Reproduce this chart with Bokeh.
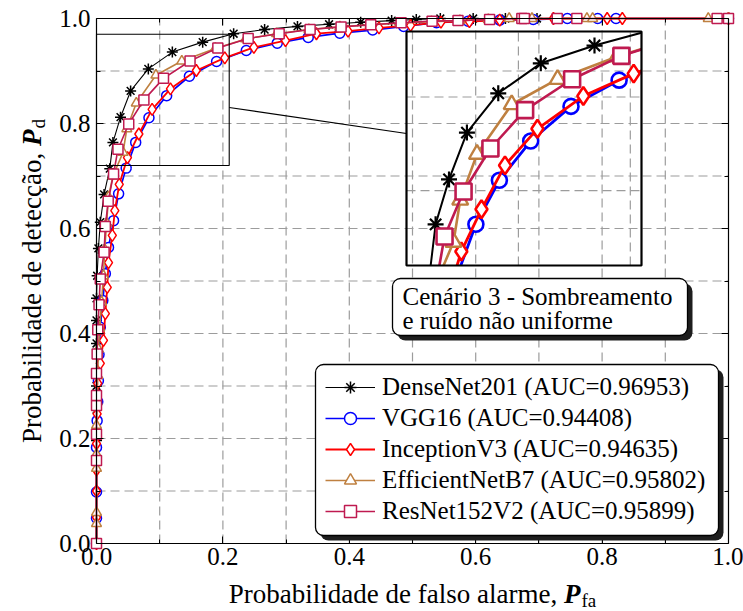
import glob
import math
from bokeh.plotting import figure
from bokeh.models import (Range1d, LinearAxis, FixedTicker, Label, Legend, LegendItem,
                          BoxAnnotation, PrintfTickFormatter, CustomJSTickFormatter)
from bokeh.embed import file_html
from bokeh.resources import INLINE

FONT = "Liberation Serif"

# ---------------- data ----------------
densenet_fpr = [0.0, 0.0, 0.0, 0.0, 0.0, 0.0, 0.0, 0.001, 0.003, 0.006, 0.012, 0.021, 0.026,
                0.038, 0.054, 0.082, 0.120, 0.168, 0.217, 0.266, 0.318, 0.368, 0.418, 0.467,
                0.506, 0.544, 0.596, 0.647, 0.697, 1.0]
densenet_tpr = [0.0, 0.196, 0.255, 0.300, 0.381, 0.425, 0.467, 0.510, 0.562, 0.612, 0.665, 0.714,
                0.764, 0.812, 0.862, 0.904, 0.936, 0.955, 0.971, 0.979, 0.985, 0.989, 0.993,
                0.996, 0.998, 1.0, 1.0, 1.0, 1.0, 1.0]

vgg_fpr = [0.0, 0.0, 0.0, 0.0, 0.001, 0.002, 0.003, 0.004, 0.006, 0.010, 0.014, 0.019, 0.027,
           0.035, 0.047, 0.062, 0.083, 0.111, 0.147, 0.190, 0.237, 0.286, 0.335, 0.385, 0.437,
           0.486, 0.538, 0.588, 0.638, 0.691, 0.745, 0.793, 0.822, 1.0]
vgg_tpr = [0.0, 0.048, 0.098, 0.183, 0.234, 0.270, 0.310, 0.360, 0.412, 0.463, 0.514, 0.564,
           0.615, 0.666, 0.715, 0.764, 0.811, 0.853, 0.890, 0.918, 0.939, 0.953, 0.964, 0.972,
           0.978, 0.985, 0.992, 0.995, 0.997, 0.998, 1.0, 1.0, 1.0, 1.0]

inception_fpr = [0.0, 0.0, 0.0, 0.0, 0.0, 0.001, 0.002, 0.006, 0.011, 0.014, 0.017, 0.019, 0.025,
                 0.029, 0.036, 0.049, 0.067, 0.088, 0.117, 0.158, 0.203, 0.249, 0.299, 0.348,
                 0.398, 0.447, 0.497, 0.545, 0.590, 0.638, 0.723, 0.808, 0.832, 1.0]
inception_tpr = [0.0, 0.050, 0.100, 0.140, 0.190, 0.247, 0.305, 0.343, 0.387, 0.438, 0.488, 0.535,
                 0.587, 0.634, 0.684, 0.735, 0.780, 0.827, 0.866, 0.901, 0.925, 0.945, 0.958,
                 0.971, 0.976, 0.982, 0.987, 0.993, 0.994, 0.997, 1.0, 1.0, 1.0, 1.0]

efficient_fpr = [0.0, 0.0, 0.0, 0.0, 0.0, 0.0, 0.001, 0.002, 0.003, 0.005, 0.008, 0.011, 0.013,
                 0.016, 0.019, 0.026, 0.042, 0.048, 0.063, 0.094, 0.135, 0.188, 0.236, 0.285,
                 0.336, 0.385, 0.433, 0.480, 0.530, 0.575, 0.620, 0.653, 0.689, 0.776, 0.785,
                 0.968, 1.0]
efficient_tpr = [0.0, 0.038, 0.059, 0.143, 0.170, 0.225, 0.270, 0.320, 0.370, 0.410, 0.460, 0.510,
                 0.560, 0.610, 0.660, 0.700, 0.745, 0.790, 0.839, 0.892, 0.919, 0.943, 0.961,
                 0.971, 0.979, 0.984, 0.988, 0.991, 0.994, 0.996, 0.998, 1.0, 1.0, 1.0, 1.0,
                 1.0, 1.0]

resnet_fpr = [0.0, 0.0, 0.0, 0.0, 0.0, 0.0, 0.001, 0.002, 0.004, 0.006, 0.012, 0.014, 0.0185,
              0.027, 0.034, 0.051, 0.075, 0.106, 0.148, 0.192, 0.240, 0.289, 0.338, 0.387, 0.434,
              0.482, 0.531, 0.572, 0.622, 0.673, 0.677, 0.729, 0.760, 0.982, 1.0]
resnet_tpr = [0.0, 0.158, 0.208, 0.263, 0.282, 0.324, 0.361, 0.407, 0.455, 0.504, 0.555, 0.604,
              0.652, 0.704, 0.751, 0.799, 0.845, 0.886, 0.919, 0.944, 0.962, 0.971, 0.979, 0.984,
              0.988, 0.992, 0.995, 0.996, 0.998, 1.0, 1.0, 1.0, 1.0, 1.0, 1.0]

series_names = ["DenseNet201 (AUC=0.96953)", "VGG16 (AUC=0.94408)", "InceptionV3 (AUC=0.94635)",
                "EfficientNetB7 (AUC=0.95802)", "ResNet152V2 (AUC=0.95899)"]
major_ticks = [0.0, 0.2, 0.4, 0.6, 0.8, 1.0]
minor_ticks = [0.1, 0.3, 0.5, 0.7, 0.9]
inset_grid_x = [0.1, 0.2]
inset_grid_y = [0.8, 0.9]
x_label_text = "Probabilidade de falso alarme,"
y_label_text = "Probabilidade de detecção,"
box_lines = ["Cenário 3 - Sombreamento", "e ruído não uniforme"]

# ---------------- styles ----------------
styles = [
    dict(color="#000000", marker="asterisk", lw=1.1, size=11, mlw=1.5, isize=16, ilw=2.0, imlw=2.2),
    dict(color="#0000FF", marker="circle", lw=1.7, size=10, mlw=1.5, isize=15, ilw=2.8, imlw=2.6),
    dict(color="#FF0000", marker="diamond", lw=1.8, size=12, mlw=1.5, isize=18, ilw=2.8, imlw=2.6),
    dict(color="#BF8040", marker="triangle", lw=1.6, size=10, mlw=1.5, isize=16, ilw=2.6, imlw=2.4),
    dict(color="#BF1A50", marker="square", lw=1.6, size=10, mlw=1.5, isize=16, ilw=2.6, imlw=2.6),
]
data = [(densenet_fpr, densenet_tpr), (vgg_fpr, vgg_tpr), (inception_fpr, inception_tpr),
        (efficient_fpr, efficient_tpr), (resnet_fpr, resnet_tpr)]

# layout: the frame fills the canvas; the axes are pinned at 0 and 1
W, H = 743, 611
FL, FR, FT, FB = 96, 728, 18, 543
def px2x(px):
    return (px - FL) / (FR - FL)
def py2y(py):
    return (FB - py) / (FB - FT)

def text_width(s, size, style="Regular"):
    try:
        from PIL import ImageFont
        files = glob.glob(f"/usr/share/fonts/**/LiberationSerif-{style}.ttf", recursive=True)
        if files:
            return ImageFont.truetype(files[0], size).getlength(s)
    except Exception:
        pass
    return 0.47 * size * len(s)

p = figure(width=W, height=H, output_backend="svg", toolbar_location=None,
           x_range=Range1d(px2x(0), px2x(W)), y_range=Range1d(py2y(H), py2y(0)),
           x_axis_type=None, y_axis_type=None, min_border=0)
p.min_border_left = p.min_border_right = p.min_border_top = p.min_border_bottom = 0
p.background_fill_color = "white"
p.border_fill_color = "white"
p.outline_line_color = None

ticker = FixedTicker(ticks=major_ticks, minor_ticks=minor_ticks)

# grid (dashed, every 0.1) restricted to the unit square
grid_vals = [v for v in sorted(major_ticks + minor_ticks) if 0 < v < 1]
n = len(grid_vals)
p.segment(x0=grid_vals, y0=[0.0] * n, x1=grid_vals, y1=[1.0] * n, line_color="#9c9c9c",
          line_width=1.2, line_dash="9 5", level="underlay")
p.segment(x0=[0.0] * n, y0=grid_vals, x1=[1.0] * n, y1=grid_vals, line_color="#9c9c9c",
          line_width=1.2, line_dash="9 5", level="underlay")

for loc, fixed, show in (("below", 0.0, True), ("left", 0.0, True),
                         ("above", 1.0, False), ("right", 1.0, False)):
    ax = LinearAxis(ticker=ticker, fixed_location=fixed, bounds=(0, 1),
                    major_tick_in=7, major_tick_out=0, minor_tick_in=4, minor_tick_out=0,
                    axis_line_color="black", axis_line_width=1.2,
                    major_tick_line_color="black", minor_tick_line_color="black")
    if show:
        ax.formatter = PrintfTickFormatter(format="%.1f")
        ax.major_label_text_font = FONT
        ax.major_label_text_font_size = "25px"
        ax.major_label_text_color = "black"
        ax.major_label_standoff = 4 if loc == "below" else 6
    else:
        ax.formatter = CustomJSTickFormatter(code="return ''")
        ax.major_label_text_font_size = "1px"
        ax.major_label_standoff = 0
    p.add_layout(ax, loc)

# ---------------- main curves ----------------
legend_items = []
for name, (xs, ys), st in zip(series_names, data, styles):
    lr = p.line(xs, ys, line_color=st["color"], line_width=st["lw"])
    sr = p.scatter(xs, ys, marker=st["marker"], size=st["size"], line_color=st["color"],
                   line_width=st["mlw"], fill_color="white")
    legend_items.append(LegendItem(label=name, renderers=[lr, sr]))

# ---------------- zoom window + inset ----------------
ZX0, ZX1, ZY0, ZY1 = 0.0, 0.21, 0.72, 0.97
p.quad(left=[ZX0], right=[ZX1], bottom=[ZY0], top=[ZY1], fill_color=None,
       line_color="black", line_width=1.1)
IX0, IX1, IY0, IY1 = px2x(406), px2x(641), py2y(265), py2y(31)
p.segment(x0=[ZX1], y0=[py2y(107)], x1=[IX0], y1=[py2y(133)], line_color="black", line_width=1.1)

ins = p.subplot(x_source=Range1d(ZX0, ZX1), y_source=Range1d(ZY0, ZY1),
                x_target=Range1d(IX0, IX1), y_target=Range1d(IY0, IY1))

ins.segment(x0=inset_grid_x, y0=[ZY0] * len(inset_grid_x), x1=inset_grid_x,
            y1=[ZY1] * len(inset_grid_x), line_color="#9c9c9c", line_width=1.2, line_dash="9 5")
ins.segment(x0=[ZX0] * len(inset_grid_y), y0=inset_grid_y, x1=[ZX1] * len(inset_grid_y),
            y1=inset_grid_y, line_color="#9c9c9c", line_width=1.2, line_dash="9 5")


def clip_segment(ax, ay, bx, by, x0, x1, y0, y1):
    dx, dy = bx - ax, by - ay
    t0, t1 = 0.0, 1.0
    for pp, q in ((-dx, ax - x0), (dx, x1 - ax), (-dy, ay - y0), (dy, y1 - ay)):
        if pp == 0:
            if q < 0:
                return None
        else:
            t = q / pp
            if pp < 0:
                if t > t1:
                    return None
                t0 = max(t0, t)
            else:
                if t < t0:
                    return None
                t1 = min(t1, t)
    return ax + t0 * dx, ay + t0 * dy, ax + t1 * dx, ay + t1 * dy


def clip_polyline(xs, ys, x0, x1, y0, y1):
    out_x, out_y, cx, cy = [], [], [], []
    for i in range(len(xs) - 1):
        seg = clip_segment(xs[i], ys[i], xs[i + 1], ys[i + 1], x0, x1, y0, y1)
        if seg is None:
            if cx:
                out_x.append(cx); out_y.append(cy); cx, cy = [], []
            continue
        ax, ay, bx, by = seg
        if cx and abs(cx[-1] - ax) < 1e-12 and abs(cy[-1] - ay) < 1e-12:
            cx.append(bx); cy.append(by)
        else:
            if cx:
                out_x.append(cx); out_y.append(cy)
            cx, cy = [ax, bx], [ay, by]
    if cx:
        out_x.append(cx); out_y.append(cy)
    return out_x, out_y


for (xs, ys), st in zip(data, styles):
    lx, ly = clip_polyline(xs, ys, ZX0, ZX1, ZY0, ZY1)
    if lx:
        ins.multi_line(xs=lx, ys=ly, line_color=st["color"], line_width=st["ilw"])
    mx = [x for x, y in zip(xs, ys) if ZX0 <= x <= ZX1 and ZY0 <= y <= ZY1]
    my = [y for x, y in zip(xs, ys) if ZX0 <= x <= ZX1 and ZY0 <= y <= ZY1]
    ins.scatter(mx, my, marker=st["marker"], size=st["isize"], line_color=st["color"],
                line_width=st["imlw"], fill_color="white")

ins.quad(left=[ZX0], right=[ZX1], bottom=[ZY0], top=[ZY1], fill_color=None,
         line_color="black", line_width=2.2)

# ---------------- boxes ----------------
SH = 5
def add_box(l, t, r, b):
    p.add_layout(BoxAnnotation(left=px2x(l + SH), right=px2x(r + SH), top=py2y(t + SH),
                               bottom=py2y(b + SH), fill_color="#1e1e1e", fill_alpha=1.0,
                               line_alpha=0, border_radius=8))
    p.add_layout(BoxAnnotation(left=px2x(l), right=px2x(r), top=py2y(t), bottom=py2y(b),
                               fill_color="white", fill_alpha=1.0, line_color="black",
                               line_width=1.3, line_alpha=1.0, border_radius=8))

add_box(392, 278, 687, 335)
for i, txt in enumerate(box_lines):
    p.add_layout(Label(x=px2x(402), y=py2y(296 + 24 * i), text=txt, text_font=FONT,
                       text_font_size="25px", text_baseline="middle", text_align="left",
                       text_color="black"))

# ---------------- legend ----------------
add_box(315, 364, 718, 535)
legend = Legend(items=legend_items, location=(325, H - 526), orientation="vertical",
                label_text_font=FONT, label_text_font_size="25px", label_text_color="black",
                glyph_width=50, glyph_height=30, label_height=30, spacing=1,
                label_standoff=7, padding=0, margin=0, border_line_alpha=0,
                background_fill_alpha=0)
p.add_layout(legend, "center")

# ---------------- axis labels ----------------
AX = 27
SUB = 19
gap = 0.25 * AX
wP = text_width("P", AX, "BoldItalic")

w1 = text_width(x_label_text, AX)
wfa = text_width("fa", SUB)
total = w1 + gap + wP + 1 + wfa
sx = (FL + FR) / 2 - total / 2
mid = 593
def lab(**kw):
    base = dict(text_font=FONT, text_color="black", text_baseline="middle", text_align="left")
    base.update(kw)
    p.add_layout(Label(**base))

lab(x=px2x(sx), y=py2y(mid), text=x_label_text, text_font_size=f"{AX}px")
lab(x=px2x(sx + w1 + gap), y=py2y(mid), text="P", text_font_size=f"{AX}px",
    text_font_style="bold italic")
lab(x=px2x(sx + w1 + gap + wP + 1), y=py2y(mid + 7), text="fa", text_font_size=f"{SUB}px")

w1y = text_width(y_label_text, AX)
wd = text_width("d", SUB)
totaly = w1y + gap + wP + 1 + wd
sy = (FT + FB) / 2 + totaly / 2
cx = 31
lab(x=px2x(cx), y=py2y(sy), text=y_label_text, text_font_size=f"{AX}px", angle=math.pi / 2)
lab(x=px2x(cx), y=py2y(sy - w1y - gap), text="P", text_font_size=f"{AX}px",
    text_font_style="bold italic", angle=math.pi / 2)
lab(x=px2x(cx + 7), y=py2y(sy - w1y - gap - wP - 1), text="d", text_font_size=f"{SUB}px",
    angle=math.pi / 2)

open("out.html", "w").write(file_html(p, INLINE))
